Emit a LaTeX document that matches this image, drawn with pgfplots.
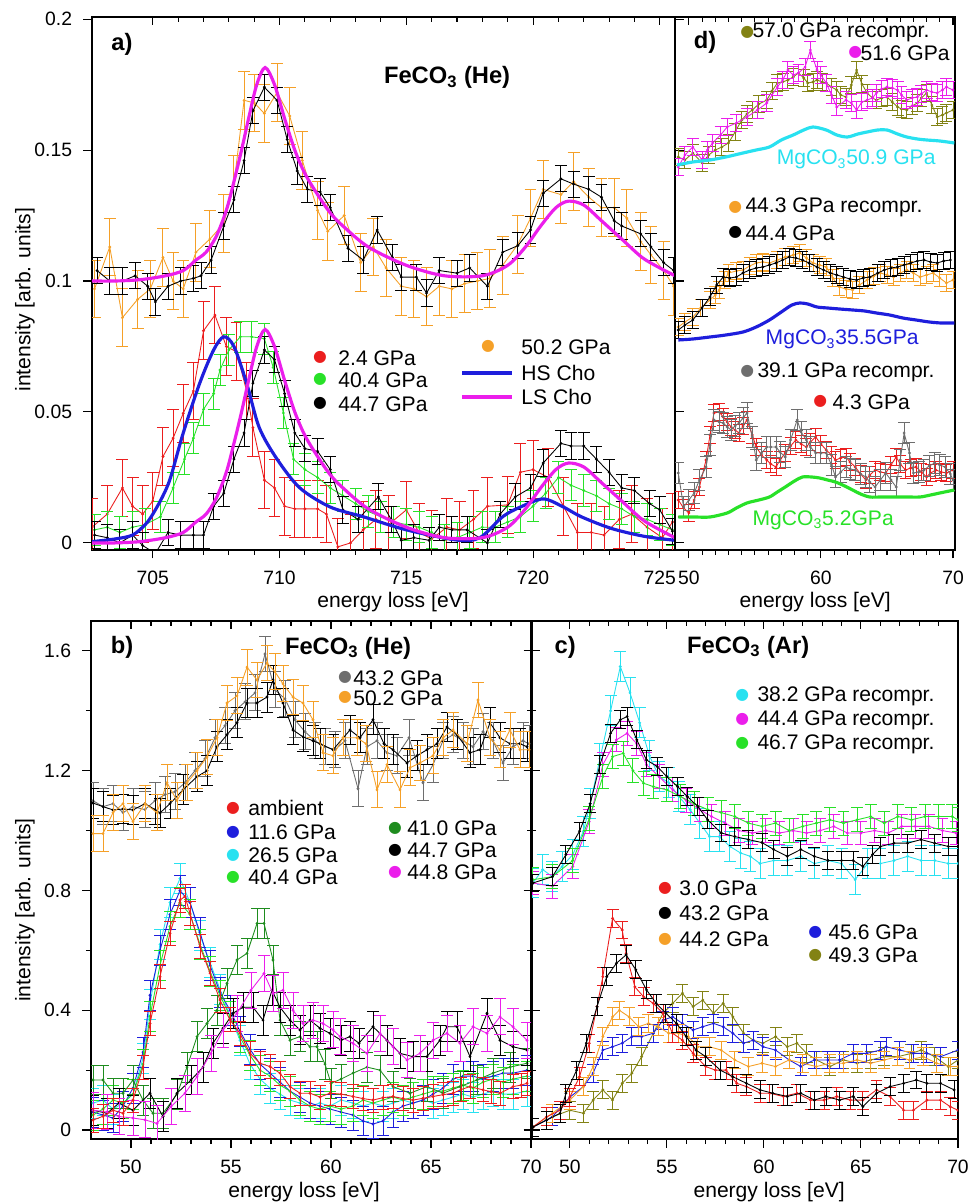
\documentclass[border=0pt]{standalone}
\usepackage{pgfplots}
\pgfplotsset{compat=1.18}
\usepackage{fontspec}
\setmainfont{Liberation Sans}
\newfontfamily\sym{DejaVu Sans}
\definecolor{cred}{RGB}{235,30,30}
\definecolor{cgreen}{RGB}{40,225,40}
\definecolor{cdgreen}{RGB}{30,140,30}
\definecolor{ccyan}{RGB}{40,225,240}
\definecolor{cmag}{RGB}{235,30,235}
\definecolor{corange}{RGB}{245,160,40}
\definecolor{cblue}{RGB}{30,30,220}
\definecolor{colive}{RGB}{130,130,20}
\definecolor{cgray}{RGB}{110,110,110}

% one mark = data dot + its error bar with caps (half height given)
\newcommand{\defeb}[2]{\pgfdeclareplotmark{#1}{%
  \pgfpathmoveto{\pgfqpoint{0pt}{-#2}}\pgfpathlineto{\pgfqpoint{0pt}{#2}}%
  \pgfpathmoveto{\pgfqpoint{-3.4pt}{-#2}}\pgfpathlineto{\pgfqpoint{3.4pt}{-#2}}%
  \pgfpathmoveto{\pgfqpoint{-3.4pt}{#2}}\pgfpathlineto{\pgfqpoint{3.4pt}{#2}}%
  \pgfusepathqstroke
  \pgfpathcircle{\pgfpointorigin}{0.9pt}\pgfusepathqfill}}
\defeb{ea}{16.4pt}
\defeb{eb}{8.9pt}
\defeb{ec}{7.45pt}
\defeb{ed}{5.1pt}
\defeb{ee}{5.7pt}
\defeb{ef}{10.2pt}
\defeb{eg}{8.5pt}
\defeb{eh}{6.8pt}
\defeb{ei}{5.1pt}

\pgfplotsset{
  panel/.style={scale only axis, anchor=south west,
    axis line style={line width=0.7pt}, tick align=outside,
    major tick length=0.17cm, minor tick length=0.1cm,
    tick style={black, line width=0.6pt}, xtick pos=left,
    clip marker paths=true,
    ticklabel style={font=\fontsize{11}{13}\selectfont},
    xticklabel style={yshift=-0.1cm}, yticklabel style={xshift=-0.08cm},
    /pgf/number format/assume math mode=true},
  tops/.style={scale only axis, anchor=south west, axis line style={draw=none},
    xtick pos=right, tick align=inside, xticklabels={}, ytick=\empty,
    major tick length=0.17cm, minor tick length=0.1cm,
    tick style={black, line width=0.6pt}, ymin=0, ymax=1},
  dat/.style 2 args={color=#1, line width=0.5pt, mark=#2,
    mark options={solid, line width=0.55pt, fill=#1, draw=#1}},
  fitline/.style={color=#1, line width=1.8pt, smooth, no marks},
}
\newcommand{\dotg}{{\sym\fontsize{9}{9}\selectfont ●}}

\begin{document}
\fontsize{12}{14}\selectfont
\begin{tikzpicture}
\useasboundingbox (0,0) rectangle (19.42,24.06);

% ---------------- panel a
\begin{axis}[panel, at={(1.84cm,13.06cm)}, width=11.66cm, height=10.66cm,
  xmin=702.6, xmax=725.6, ymin=-0.0027, ymax=0.2008,
  xtick={705,710,715,720,725}, xticklabels={705,710,715,720,725}, minor x tick num=4,
  ytick={0,0.05,0.1,0.15,0.2}, yticklabels={0,0.05,0.1,0.15,0.2}]
\addplot[dat={cred}{ea}] coordinates {(702.6,0.006) (703.2,0.011) (703.8,0.021) (704.2,0.014) (704.6,0.011) (705.0,0.016) (705.4,0.033) (705.8,0.04) (706.2,0.0495) (706.6,0.058) (707.0,0.081) (707.45,0.087) (707.9,0.075) (708.3,0.073) (708.7,0.058) (708.95,0.044) (709.4,0.024) (709.8,0.021) (710.2,0.014) (710.6,0.013) (711.0,0.013) (711.5,0.013) (711.85,0.011) (712.3,-0.0015) (712.8,0.0) (713.3,0.005) (713.8,0.009) (714.3,0.007) (715.0,0.0126) (715.5,0.004) (716.0,0.0015) (716.6,0.006) (717.1,0.005) (717.65,0.009) (718.2,0.014) (719.0,0.0145) (719.5,0.027) (720.0,0.028) (720.6,0.025) (721.2,0.014) (721.75,0.004) (722.3,0.004) (722.8,0.003) (723.4,0.009) (723.9,0.011) (724.5,0.006) (725.1,0.002) (725.5,0.008)};
\addplot[dat={cgreen}{eb}] coordinates {(702.7,0.005) (703.2,0.006) (703.7,0.004) (704.2,0.006) (704.7,0.007) (705.3,0.01) (705.8,0.021) (706.25,0.032) (706.6,0.04) (707.0,0.051) (707.4,0.057) (707.65,0.066) (708.0,0.0737) (708.45,0.0787) (708.9,0.0787) (709.4,0.078) (709.75,0.067) (710.15,0.0496) (710.55,0.032) (711.0,0.028) (711.5,0.025) (712.0,0.021) (712.5,0.018) (713.0,0.015) (713.5,0.012) (714.0,0.01) (714.5,0.008) (715.0,0.007) (715.5,0.006) (716.0,0.004) (716.5,0.001) (717.0,0.002) (717.5,0.004) (718.0,0.006) (718.5,0.006) (719.0,0.008) (719.5,0.01) (720.0,0.014) (720.5,0.019) (721.0,0.025) (721.5,0.022) (722.0,0.02) (722.5,0.018) (723.0,0.015) (723.5,0.013) (724.0,0.01) (724.5,0.009) (725.0,0.007) (725.5,0.005)};
\addplot[dat={black}{ec}] coordinates {(702.7,0.003) (703.2,0.002) (703.7,0.0) (704.2,0.003) (704.6,-0.001) (705.1,-0.004) (705.6,0.004) (706.1,0.003) (706.6,0.003) (707.0,0.003) (707.4,0.014) (707.8,0.019) (708.2,0.032) (708.6,0.042) (708.95,0.061) (709.4,0.0737) (709.8,0.07) (710.2,0.057) (710.6,0.042) (711.0,0.036) (711.5,0.035) (712.0,0.028) (712.5,0.0126) (713.1,0.009) (713.9,0.0176) (714.4,0.009) (714.8,0.001) (715.3,0.002) (715.9,0.001) (716.3,0.006) (716.8,0.005) (717.4,0.005) (718.2,0.0) (718.7,0.011) (719.3,0.0176) (719.9,0.021) (720.4,0.0305) (721.1,0.038) (721.5,0.037) (722.0,0.037) (722.5,0.032) (723.0,0.027) (723.5,0.021) (724.0,0.02) (724.6,0.015) (725.0,0.0126) (725.5,0.0045)};
\addplot[fitline=cblue] coordinates {(702.6,0.0005) (703.5,0.0015) (704.2,0.003) (704.7,0.007) (705.0,0.011) (705.4,0.018) (705.7,0.025) (706.2,0.042) (706.85,0.061) (707.4,0.0737) (707.8,0.0787) (708.2,0.075) (708.7,0.061) (709.2,0.044) (709.9,0.032) (710.8,0.021) (712,0.0137) (713.3,0.01) (715,0.005) (717,0.0011) (717.9,0.002) (718.8,0.01) (719.5,0.0137) (720.4,0.0168) (721.2,0.0137) (721.9,0.01) (723.1,0.0055) (724.4,0.0025) (725.6,0.001)};
\addplot[fitline=cmag] coordinates {(702.6,0.0) (703.5,0.0) (704.5,0.0005) (705.5,0.002) (706.2,0.004) (706.7,0.008) (707.1,0.011) (707.5,0.017) (707.9,0.027) (708.2,0.038) (708.5,0.05) (708.8,0.063) (709.1,0.075) (709.43,0.0815) (709.8,0.075) (710.2,0.062) (710.6,0.05) (711.0,0.041) (711.5,0.033) (712,0.026) (712.5,0.021) (713.5,0.013) (715,0.006) (716.5,0.002) (718,0.002) (719,0.006) (719.7,0.013) (720.3,0.021) (720.9,0.028) (721.4,0.0305) (722,0.029) (722.7,0.023) (723.5,0.016) (724.3,0.009) (725,0.005) (725.6,0.002)};
\addplot[dat={corange}{ea}] coordinates {(702.7,0.097) (703.3,0.113) (703.8,0.086) (704.4,0.093) (704.9,0.097) (705.4,0.109) (705.8,0.100) (706.2,0.097) (706.7,0.111) (707.25,0.116) (707.8,0.122) (708.2,0.137) (708.6,0.169) (709.0,0.168) (709.4,0.164) (709.9,0.172) (710.4,0.163) (710.9,0.146) (711.5,0.127) (711.9,0.119) (712.55,0.125) (713.2,0.107) (713.7,0.113) (714.2,0.105) (714.8,0.098) (715.3,0.097) (715.8,0.094) (716.3,0.098) (716.8,0.097) (717.3,0.099) (717.8,0.1) (718.3,0.101) (718.8,0.106) (719.4,0.114) (719.9,0.124) (720.4,0.135) (721.1,0.133) (721.6,0.138) (722.2,0.132) (722.7,0.128) (723.2,0.128) (723.7,0.124) (724.25,0.115) (724.65,0.11) (725.15,0.104) (725.55,0.098)};
\addplot[dat={black}{ec}] coordinates {(702.8,0.104) (703.3,0.1) (703.8,0.1) (704.3,0.102) (704.8,0.098) (705.1,0.092) (705.6,0.098) (706.1,0.1) (706.6,0.101) (706.9,0.102) (707.3,0.108) (707.8,0.121) (708.2,0.131) (708.6,0.146) (708.95,0.165) (709.4,0.174) (709.9,0.169) (710.3,0.154) (710.7,0.142) (711.1,0.135) (711.6,0.134) (712.0,0.128) (712.7,0.1125) (713.3,0.108) (713.85,0.1195) (714.45,0.109) (714.8,0.1015) (715.4,0.1015) (715.8,0.0954) (716.3,0.104) (717.0,0.103) (717.5,0.105) (718.2,0.098) (718.8,0.111) (719.4,0.1135) (719.9,0.1195) (720.4,0.1335) (721.1,0.139) (721.6,0.137) (722.2,0.135) (722.7,0.132) (723.2,0.123) (723.5,0.121) (724.25,0.118) (724.65,0.113) (725.15,0.107) (725.55,0.104)};
\addplot[fitline=cmag] coordinates {(702.6,0.1) (703.5,0.1) (704.5,0.1005) (705.5,0.102) (706.2,0.104) (706.7,0.108) (707.1,0.111) (707.5,0.117) (707.9,0.127) (708.2,0.138) (708.5,0.15) (708.8,0.163) (709.1,0.175) (709.43,0.1815) (709.8,0.175) (710.2,0.162) (710.6,0.15) (711.0,0.141) (711.5,0.133) (712,0.126) (712.5,0.121) (713.5,0.113) (715,0.106) (716.5,0.102) (718,0.102) (719,0.106) (719.7,0.113) (720.3,0.121) (720.9,0.128) (721.4,0.1305) (722,0.129) (722.7,0.123) (723.5,0.116) (724.3,0.109) (725,0.105) (725.6,0.102)};
\end{axis}
\begin{axis}[tops, at={(1.84cm,13.06cm)}, width=11.66cm, height=10.66cm,
  xmin=702.6, xmax=725.6, xtick={705,710,715,720,725}, minor x tick num=4]
\end{axis}

% ---------------- panel d
\begin{axis}[panel, at={(13.5cm,13.06cm)}, width=5.6cm, height=10.66cm,
  xmin=48.95, xmax=70.15, ymin=0, ymax=533, ytick=\empty,
  xtick={50,60,70}, xticklabels={50,60,70}, minor x tick num=9]
\addplot[dat={colive}{ed}] coordinates {(49.2,393) (49.7,390) (50.3,397) (51.0,387) (51.5,395) (52.0,400) (52.5,403) (53.0,407) (53.5,418) (54.0,430) (54.4,436) (54.8,440) (55.3,446) (55.9,450) (56.3,459) (56.7,467) (57.1,468) (57.5,470) (57.9,473) (58.3,477) (58.7,472) (59.0,467) (59.4,468) (59.7,470) (60.1,468) (60.4,467) (60.8,463) (61.2,460) (61.5,455) (61.9,453) (62.3,465) (62.7,480) (63.1,466) (63.5,457) (63.9,452) (64.2,450) (64.6,452) (65.0,453) (65.4,448) (65.8,443) (66.1,441) (66.5,440) (66.9,444) (67.3,447) (67.6,452) (68.0,457) (68.4,445) (68.8,433) (69.2,435) (69.5,437) (70.0,440)};
\addplot[dat={cmag}{ed}] coordinates {(49.2,383) (49.7,395) (50.3,403) (51.0,390) (51.4,400) (51.8,407) (52.4,415) (52.9,423) (53.6,427) (54.4,433) (55.2,440) (55.9,447) (56.7,463) (57.1,470) (57.5,480) (57.9,475) (58.3,477) (58.8,483) (59.2,500) (59.7,480) (60.0,475) (60.4,467) (60.8,455) (61.2,443) (61.9,450) (62.3,447) (62.7,440) (63.1,448) (63.5,450) (63.9,452) (64.2,457) (64.6,461) (65.0,463) (65.4,462) (65.8,460) (66.1,455) (66.5,450) (66.9,452) (67.3,453) (67.6,456) (68.0,460) (68.4,458) (68.8,457) (69.2,460) (69.5,463) (70.0,460)};
\addplot[fitline=ccyan] coordinates {(49.1,385) (50.3,388) (51.6,390) (52.8,393) (54.1,397) (55.1,400) (56.1,403) (57.0,410) (57.9,415) (58.7,420) (59.4,423) (60.4,420) (61.2,415) (62.0,413) (62.8,416) (63.5,418) (64.3,420) (65.0,420) (65.8,416) (66.5,413) (67.3,411) (68.0,410) (69.0,409) (70.1,407)};
\addplot[dat={corange}{ed}] coordinates {(49.2,223) (49.7,228) (50.3,233) (50.9,242) (51.6,250) (52.0,255) (52.3,260) (52.7,270) (53.0,277) (53.6,279) (54.1,280) (54.6,284) (55.1,287) (55.6,288) (56.1,287) (56.7,290) (57.3,293) (57.9,295) (58.4,297) (58.9,292) (59.4,287) (59.9,285) (60.4,283) (60.9,272) (61.4,263) (61.9,261) (62.4,260) (62.9,265) (63.5,270) (64.0,274) (64.5,277) (65.0,275) (65.5,273) (66.0,277) (66.5,280) (67.0,277) (67.5,273) (68.0,275) (68.5,277) (69.0,272) (69.5,267) (70.0,270)};
\addplot[dat={black}{ed}] coordinates {(49.2,220) (49.7,225) (50.3,230) (51.0,242) (51.6,253) (52.1,265) (52.6,273) (53.1,272) (53.6,273) (54.1,277) (54.6,280) (55.1,282) (55.6,283) (56.1,285) (56.6,287) (57.1,290) (57.6,293) (58.1,292) (58.6,290) (59.1,287) (59.7,283) (60.2,280) (60.7,277) (61.2,275) (61.7,273) (62.2,271) (62.7,270) (63.2,272) (63.7,273) (64.3,277) (64.8,280) (65.3,282) (65.8,283) (66.3,285) (66.8,287) (67.3,289) (67.8,290) (68.3,288) (68.8,287) (69.3,289) (69.8,290)};
\addplot[fitline=cblue] coordinates {(49.2,210) (50.3,211) (51.6,213) (52.8,215) (54.1,218) (55.1,223) (56.1,230) (57.0,238) (57.8,245) (58.4,247) (59.0,246) (59.7,243) (60.5,242) (61.4,241) (62.4,240) (63.3,239) (64.2,237) (65.2,235) (66.2,232) (67.2,230) (68.2,228) (69.1,227) (70.1,227)};
\addplot[dat={cred}{ed}] coordinates {(49.2,50) (49.6,42) (50.0,37) (50.4,50) (50.8,63) (51.3,90) (51.6,115) (51.9,137) (52.3,138) (52.6,133) (52.9,128) (53.2,123) (53.5,120) (53.8,117) (54.1,124) (54.4,130) (54.8,115) (55.1,103) (55.5,95) (55.9,90) (56.2,86) (56.6,83) (56.9,90) (57.3,97) (57.7,104) (58.1,110) (58.5,106) (58.9,103) (59.2,108) (59.6,113) (60.0,106) (60.4,100) (60.8,95) (61.1,90) (61.5,92) (61.9,93) (62.2,88) (62.6,83) (63.0,76) (63.4,70) (63.7,75) (64.1,80) (64.5,78) (64.9,77) (65.3,85) (65.7,93) (66.0,86) (66.4,80) (66.8,82) (67.2,83) (67.6,78) (68.0,73) (68.3,77) (68.7,80) (69.1,78) (69.5,77) (70.0,80)};
\addplot[dat={cgray}{ee}] coordinates {(49.2,77) (49.6,43) (50.0,50) (50.4,57) (50.8,70) (51.3,83) (51.6,105) (51.9,130) (52.3,128) (52.6,127) (52.9,123) (53.2,120) (53.5,124) (53.8,127) (54.1,132) (54.4,137) (54.8,113) (55.1,90) (55.5,97) (55.9,103) (56.2,103) (56.6,103) (56.9,98) (57.3,93) (57.7,110) (58.2,130) (58.5,118) (58.9,110) (59.2,103) (59.6,97) (60.0,97) (60.4,97) (60.8,85) (61.1,73) (61.5,78) (61.9,83) (62.2,81) (62.6,80) (63.0,76) (63.4,73) (63.7,68) (64.1,63) (64.5,70) (64.9,77) (65.3,70) (65.7,63) (66.0,90) (66.3,117) (66.7,97) (67.0,77) (67.4,78) (67.8,80) (68.2,84) (68.6,87) (69.0,85) (69.4,83) (69.8,76) (70.0,70)};
\addplot[fitline=cgreen] coordinates {(49.2,33) (50.4,33) (51.6,33) (52.9,37) (53.6,42) (54.4,47) (55.3,50) (56.1,53) (56.7,58) (57.3,63) (58.0,69) (58.6,73) (59.3,73) (59.9,72) (60.5,70) (61.1,68) (61.8,64) (62.4,60) (63.0,56) (63.7,53) (64.6,53) (65.5,53) (66.5,53) (67.5,53) (68.3,55) (69.0,57) (70.1,60)};
\end{axis}
\begin{axis}[tops, at={(13.5cm,13.06cm)}, width=5.6cm, height=10.66cm,
  xmin=48.95, xmax=70.15, xtick={50,60,70}, minor x tick num=9]
\end{axis}

% ---------------- panel b
\begin{axis}[panel, at={(1.82cm,1.28cm)}, width=8.8cm, height=10.36cm,
  xmin=48, xmax=70, ymin=-0.03, ymax=1.70,
  xtick={50,55,60,65,70}, xticklabels={50,55,60,65,70}, minor x tick num=4,
  ytick={0,0.4,0.8,1.2,1.6}, yticklabels={0,0.4,0.8,1.2,1.6}, minor y tick num=1]
\addplot[dat={cgray}{ef}] coordinates {(48.1,1.1) (48.6,1.08) (49.1,1.09) (49.6,1.06) (50.1,1.08) (50.7,1.07) (51.2,1.1) (51.7,1.12) (52.2,1.13) (52.7,1.16) (53.2,1.2) (53.7,1.24) (54.2,1.31) (54.7,1.35) (55.2,1.4) (55.7,1.43) (56.2,1.46) (56.7,1.59) (57.2,1.47) (57.7,1.44) (58.2,1.37) (58.7,1.33) (59.2,1.3) (59.7,1.28) (60.2,1.27) (60.7,1.3) (61.35,1.14) (61.8,1.28) (62.3,1.3) (62.8,1.26) (63.3,1.25) (63.9,1.31) (64.6,1.16) (65.1,1.22) (65.6,1.3) (66.1,1.32) (66.6,1.3) (67.1,1.28) (67.6,1.33) (68.1,1.3) (68.6,1.226) (69.1,1.28) (69.6,1.3) (69.9,1.29)};
\addplot[dat={black}{eg}] coordinates {(48.1,1.092) (48.6,1.08) (49.1,1.069) (49.6,1.072) (50.1,1.069) (50.7,1.09) (51.2,1.07) (51.45,1.059) (51.95,1.09) (52.6,1.136) (53.3,1.18) (53.8,1.2) (54.3,1.28) (54.8,1.32) (55.3,1.36) (55.8,1.426) (56.3,1.426) (56.8,1.446) (57.1,1.503) (57.6,1.426) (58.1,1.336) (58.6,1.313) (59.1,1.3) (59.45,1.29) (60.1,1.27) (60.95,1.336) (61.45,1.31) (62.1,1.37) (62.65,1.29) (63.1,1.27) (63.8,1.226) (64.3,1.25) (64.8,1.27) (65.3,1.29) (65.8,1.346) (66.3,1.32) (66.95,1.26) (67.45,1.27) (67.95,1.36) (68.45,1.31) (68.95,1.29) (69.45,1.29) (69.8,1.28)};
\addplot[dat={corange}{ef}] coordinates {(48.1,0.99) (48.6,0.99) (49.1,1.06) (49.6,1.09) (50.1,1.03) (50.7,1.09) (51.3,1.06) (51.8,1.16) (52.3,1.1) (52.8,1.16) (53.3,1.2) (53.8,1.246) (54.3,1.31) (54.8,1.426) (55.3,1.45) (55.8,1.546) (56.3,1.503) (56.8,1.56) (57.2,1.53) (57.6,1.49) (58.1,1.446) (58.6,1.426) (59.1,1.37) (59.6,1.26) (60.1,1.25) (60.6,1.31) (61.3,1.31) (61.75,1.29) (62.3,1.136) (62.8,1.22) (63.45,1.136) (63.95,1.21) (64.45,1.226) (65.1,1.25) (65.6,1.31) (66.1,1.336) (66.8,1.29) (67.35,1.436) (67.95,1.31) (68.45,1.27) (68.95,1.336) (69.45,1.27) (69.9,1.27)};
\addplot[dat={ccyan}{eg}] coordinates {(48.1,0.09) (48.6,0.1) (49.1,0.07) (49.6,0.09) (50.1,0.12) (50.6,0.24) (50.95,0.42) (51.45,0.62) (51.95,0.76) (52.45,0.84) (52.95,0.76) (53.45,0.65) (53.95,0.56) (54.45,0.47) (54.95,0.38) (55.45,0.3) (55.95,0.22) (56.45,0.17) (56.95,0.14) (57.45,0.12) (57.95,0.1) (58.45,0.09) (58.95,0.08) (59.45,0.09) (59.95,0.08) (60.5,0.1) (61.1,0.09) (61.6,0.08) (62.1,0.09) (62.6,0.08) (63.1,0.09) (63.6,0.1) (64.1,0.09) (64.6,0.1) (65.1,0.09) (65.6,0.1) (66.1,0.11) (66.6,0.12) (67.1,0.11) (67.6,0.12) (68.1,0.13) (68.6,0.12) (69.1,0.12) (69.8,0.13)};
\addplot[dat={cblue}{eg}] coordinates {(48.1,0.06) (48.6,0.05) (49.1,0.04) (49.6,0.08) (50.1,0.14) (50.6,0.26) (50.95,0.45) (51.45,0.6) (51.95,0.72) (52.45,0.8) (52.95,0.76) (53.45,0.66) (53.95,0.55) (54.45,0.46) (54.95,0.4) (55.45,0.33) (55.95,0.27) (56.45,0.22) (56.95,0.19) (57.45,0.16) (57.95,0.13) (58.45,0.11) (58.95,0.09) (59.45,0.08) (59.95,0.07) (60.5,0.06) (61.1,0.05) (61.6,0.03) (62.1,0.02) (62.6,0.03) (63.1,0.06) (63.6,0.08) (64.1,0.09) (64.6,0.1) (65.1,0.12) (65.6,0.14) (66.1,0.17) (66.6,0.18) (67.1,0.18) (67.6,0.17) (68.1,0.18) (68.6,0.19) (69.1,0.19) (69.8,0.2)};
\addplot[dat={cgreen}{eg}] coordinates {(48.1,0.05) (48.6,0.07) (49.1,0.1) (49.6,0.09) (50.1,0.12) (50.6,0.22) (50.95,0.38) (51.45,0.55) (51.95,0.68) (52.45,0.76) (52.95,0.72) (53.45,0.62) (53.95,0.53) (54.45,0.45) (54.95,0.38) (55.45,0.31) (55.95,0.25) (56.45,0.2) (56.95,0.18) (57.45,0.15) (57.95,0.13) (58.45,0.1) (58.95,0.08) (59.45,0.07) (59.95,0.08) (60.5,0.07) (61.1,0.08) (61.6,0.1) (62.1,0.09) (62.6,0.1) (63.1,0.11) (63.6,0.1) (64.1,0.11) (64.6,0.12) (65.1,0.13) (65.6,0.13) (66.1,0.14) (66.6,0.15) (67.1,0.14) (67.6,0.16) (68.1,0.17) (68.6,0.16) (69.1,0.17) (69.8,0.18)};
\addplot[dat={cdgreen}{eg}] coordinates {(48.1,0.167) (48.6,0.167) (49.1,0.123) (49.6,0.123) (50.1,0.167) (50.6,0.1) (51.1,0.056) (51.6,0.056) (52.3,0.12) (52.8,0.21) (53.3,0.312) (53.8,0.356) (54.3,0.4) (54.8,0.49) (55.3,0.568) (55.8,0.59) (56.3,0.69) (56.65,0.69) (57.1,0.568) (57.45,0.367) (57.95,0.3) (58.45,0.312) (58.95,0.278) (59.3,0.278) (59.7,0.22) (60.0,0.156) (60.5,0.17) (61.1,0.19) (61.8,0.21) (62.45,0.2) (63.1,0.145) (63.95,0.123) (64.8,0.145) (65.6,0.123) (66.45,0.145) (67.3,0.167) (68.1,0.19) (68.95,0.21) (69.8,0.223)};
\addplot[dat={black}{eg}] coordinates {(48.1,0.066) (48.8,0.056) (49.4,0.09) (50.1,0.066) (50.95,0.123) (51.6,0.045) (52.3,0.123) (53.0,0.167) (53.6,0.21) (54.1,0.29) (54.6,0.34) (55.1,0.39) (55.6,0.41) (56.1,0.41) (56.6,0.367) (57.05,0.467) (57.45,0.41) (57.95,0.367) (58.45,0.334) (58.95,0.367) (59.45,0.34) (59.95,0.323) (60.5,0.3) (60.95,0.312) (61.4,0.29) (62.1,0.345) (62.8,0.3) (63.45,0.256) (64.1,0.245) (64.8,0.245) (65.45,0.3) (65.8,0.345) (66.3,0.345) (66.95,0.245) (67.8,0.39) (68.45,0.3) (69.1,0.278) (69.8,0.267)};
\addplot[dat={cmag}{ef}] coordinates {(48.1,0.066) (48.8,0.06) (49.4,0.045) (50.1,0.04) (50.7,0.034) (51.3,0.022) (52.0,0.078) (52.7,0.123) (53.3,0.178) (54.0,0.256) (54.6,0.334) (55.3,0.39) (56.0,0.467) (56.65,0.523) (57.1,0.456) (57.6,0.467) (58.1,0.4) (58.6,0.356) (59.1,0.367) (59.6,0.356) (60.1,0.335) (60.45,0.312) (61.1,0.29) (61.8,0.256) (62.45,0.323) (63.1,0.278) (63.8,0.234) (64.45,0.256) (65.1,0.3) (65.8,0.323) (66.45,0.29) (67.1,0.345) (67.8,0.323) (68.45,0.378) (69.1,0.345) (69.8,0.3)};
\addplot[dat={cred}{eh}] coordinates {(48.1,0.033) (48.6,0.046) (49.1,0.066) (49.6,0.056) (50.1,0.1) (50.6,0.21) (50.95,0.356) (51.45,0.512) (51.95,0.657) (52.45,0.768) (52.7,0.78) (52.95,0.724) (53.45,0.612) (53.95,0.524) (54.45,0.434) (54.95,0.368) (55.45,0.323) (55.95,0.256) (56.45,0.223) (56.95,0.212) (57.45,0.19) (57.95,0.145) (58.45,0.123) (58.95,0.123) (59.45,0.11) (59.95,0.123) (60.5,0.12) (61.1,0.112) (61.6,0.105) (62.1,0.1) (62.6,0.108) (63.1,0.112) (63.6,0.105) (64.1,0.1) (64.6,0.106) (65.1,0.112) (65.6,0.118) (66.1,0.123) (66.5,0.135) (66.95,0.145) (67.6,0.134) (68.0,0.128) (68.45,0.123) (69.1,0.145) (69.5,0.15) (69.8,0.156)};
\end{axis}
\begin{axis}[tops, at={(1.82cm,1.28cm)}, width=8.8cm, height=10.36cm,
  xmin=48, xmax=70, xtick={50,55,60,65,70}, minor x tick num=4]
\end{axis}

% ---------------- panel c
\begin{axis}[panel, at={(10.64cm,1.28cm)}, width=8.52cm, height=10.36cm,
  xmin=48.05, xmax=70, ymin=-0.03, ymax=1.70, ytick pos=left,
  xtick={50,55,60,65,70}, xticklabels={50,55,60,65,70}, minor x tick num=4,
  ytick={0,0.4,0.8,1.2,1.6}, yticklabels={}, minor y tick num=1]
\addplot[dat={ccyan}{eg}] coordinates {(48.1,0.825) (48.6,0.87) (49.1,0.846) (49.6,0.88) (50.15,0.92) (50.7,0.998) (51.05,1.09) (51.55,1.24) (52.1,1.4) (52.6,1.548) (53.1,1.46) (53.6,1.36) (54.1,1.25) (54.6,1.18) (55.1,1.16) (55.6,1.115) (56.2,1.07) (56.7,1.025) (57.2,0.98) (57.7,0.98) (58.25,0.947) (58.8,0.925) (59.3,0.914) (59.8,0.89) (60.5,0.9) (61.2,0.9) (61.9,0.914) (62.6,0.89) (63.3,0.9) (64.0,0.89) (64.7,0.836) (65.35,0.89) (66.0,0.89) (66.7,0.9) (67.4,0.914) (68.1,0.9) (68.8,0.9) (69.5,0.89) (70.0,0.89)};
\addplot[dat={cmag}{eh}] coordinates {(48.1,0.825) (49.1,0.814) (50.15,0.88) (51.0,1.03) (51.7,1.22) (52.4,1.303) (52.95,1.325) (53.45,1.29) (53.95,1.22) (54.6,1.18) (55.3,1.136) (56.0,1.1) (56.7,1.07) (57.3,1.047) (58.0,1.025) (58.7,1.0) (59.4,0.992) (60.1,1.0) (60.8,0.992) (61.5,1.0) (62.2,0.992) (62.9,1.0) (63.6,1.014) (64.3,0.992) (65.0,0.992) (65.7,1.0) (66.4,0.992) (67.1,1.014) (67.8,1.014) (68.5,1.014) (69.2,1.0) (69.9,0.992)};
\addplot[dat={cgreen}{eh}] coordinates {(48.1,0.836) (49.1,0.846) (50.15,0.9) (51.0,1.04) (51.7,1.18) (52.2,1.247) (52.75,1.258) (53.25,1.2) (53.8,1.158) (54.3,1.147) (55.0,1.136) (55.7,1.114) (56.4,1.09) (57.1,1.07) (57.8,1.06) (58.5,1.047) (59.2,1.025) (59.9,1.014) (60.6,1.025) (61.3,1.0) (62.0,1.014) (62.7,1.025) (63.4,1.036) (64.1,1.025) (64.8,1.036) (65.5,1.047) (66.2,1.025) (66.9,1.047) (67.6,1.036) (68.3,1.047) (69.0,1.047) (69.7,1.047) (70.0,1.036)};
\addplot[dat={black}{ei}] coordinates {(48.1,0.825) (49.1,0.846) (49.8,0.92) (50.5,0.998) (51.05,1.09) (51.55,1.22) (52.1,1.325) (52.6,1.37) (52.95,1.381) (53.45,1.303) (53.95,1.236) (54.5,1.214) (55.0,1.18) (55.55,1.147) (56.05,1.114) (56.6,1.08) (57.1,1.036) (57.8,0.992) (58.5,0.98) (59.2,0.97) (59.9,0.96) (60.5,0.937) (61.2,0.914) (61.9,0.937) (62.6,0.914) (63.3,0.9) (64.0,0.9) (64.6,0.9) (65.1,0.88) (65.6,0.92) (66.0,0.947) (66.7,0.958) (67.4,0.958) (68.1,0.97) (68.8,0.958) (69.5,0.947) (70.0,0.947)};
\addplot[dat={colive}{ei}] coordinates {(48.1,0.01) (49.1,0.044) (50.0,0.066) (50.7,0.056) (51.2,0.1) (51.7,0.134) (52.2,0.1) (52.7,0.156) (53.2,0.19) (53.7,0.245) (54.3,0.323) (54.8,0.39) (55.3,0.423) (55.8,0.457) (56.35,0.412) (56.85,0.434) (57.4,0.39) (57.9,0.423) (58.4,0.378) (58.95,0.323) (59.45,0.3) (59.95,0.29) (60.6,0.312) (61.2,0.278) (61.7,0.29) (62.2,0.256) (62.7,0.234) (63.4,0.212) (64.1,0.234) (64.8,0.223) (65.5,0.234) (66.2,0.245) (66.9,0.245) (67.6,0.256) (68.1,0.267) (68.8,0.245) (69.5,0.212) (70.0,0.234)};
\addplot[dat={cblue}{ei}] coordinates {(48.1,0.01) (49.1,0.044) (50.0,0.11) (50.7,0.145) (51.2,0.19) (51.7,0.267) (52.2,0.278) (52.7,0.29) (53.2,0.312) (53.7,0.312) (54.3,0.323) (54.8,0.367) (55.3,0.378) (55.8,0.356) (56.35,0.334) (56.85,0.345) (57.4,0.356) (57.9,0.345) (58.4,0.323) (58.95,0.29) (59.45,0.3) (59.95,0.278) (60.6,0.267) (61.3,0.234) (61.9,0.212) (62.6,0.234) (63.3,0.234) (63.9,0.234) (64.6,0.256) (65.3,0.256) (66.0,0.267) (66.3,0.278) (67.0,0.267) (67.7,0.256) (68.4,0.256) (69.1,0.245) (70.0,0.267)};
\addplot[dat={corange}{ei}] coordinates {(48.1,0.01) (49.1,0.056) (50.0,0.1) (50.7,0.145) (51.2,0.212) (51.7,0.312) (52.2,0.378) (52.55,0.4) (53.05,0.378) (53.55,0.345) (54.05,0.356) (54.55,0.345) (55.1,0.323) (55.6,0.323) (56.1,0.312) (56.6,0.278) (57.2,0.278) (57.8,0.267) (58.5,0.234) (59.2,0.212) (59.9,0.223) (60.6,0.212) (61.3,0.234) (62.0,0.223) (62.7,0.212) (63.4,0.223) (64.1,0.223) (64.8,0.234) (65.5,0.223) (66.2,0.234) (66.9,0.245) (67.5,0.234) (68.2,0.245) (68.9,0.223) (69.6,0.212) (70.0,0.212)};
\addplot[dat={cred}{ei}] coordinates {(48.1,0.01) (48.8,0.044) (49.5,0.066) (50.0,0.11) (50.5,0.178) (51.0,0.29) (51.4,0.412) (51.7,0.512) (52.2,0.707) (52.7,0.668) (52.9,0.59) (53.35,0.478) (53.8,0.445) (54.3,0.423) (54.8,0.39) (55.3,0.323) (55.8,0.3) (56.35,0.256) (57.0,0.212) (57.5,0.2) (58.05,0.2) (58.6,0.156) (59.1,0.145) (59.8,0.123) (60.3,0.123) (61.0,0.112) (61.7,0.123) (62.4,0.1) (63.1,0.1) (63.75,0.112) (64.45,0.1) (65.1,0.1) (65.8,0.134) (66.5,0.112) (67.2,0.066) (67.7,0.066) (68.4,0.1) (69.1,0.1) (69.6,0.078) (70.0,0.066)};
\addplot[dat={black}{ei}] coordinates {(48.1,0.01) (48.8,0.033) (49.5,0.056) (49.8,0.123) (50.35,0.2) (50.85,0.29) (51.4,0.412) (51.9,0.512) (52.4,0.557) (52.9,0.585) (53.4,0.535) (53.95,0.468) (54.45,0.423) (54.95,0.39) (55.5,0.356) (56.0,0.312) (56.5,0.267) (57.0,0.245) (57.75,0.2) (58.4,0.178) (59.1,0.156) (59.8,0.134) (60.45,0.123) (61.2,0.112) (61.9,0.123) (62.6,0.1) (63.2,0.112) (63.9,0.1) (64.6,0.112) (65.1,0.078) (65.8,0.123) (66.5,0.145) (67.2,0.156) (67.85,0.167) (68.4,0.156) (69.1,0.156) (69.8,0.134)};
\end{axis}
\begin{axis}[tops, at={(10.64cm,1.28cm)}, width=8.52cm, height=10.36cm,
  xmin=48.05, xmax=70, xtick={50,55,60,65,70}, minor x tick num=4]
\end{axis}

% ---------------- labels (coordinates in reference pixels, y measured from bottom)
\begin{scope}[x=0.02cm, y=0.02cm, every node/.style={inner sep=0pt}]
\node[rotate=90] at (25,903) {intensity [arb. units]};
\node[rotate=90] at (25,293) {intensity [arb. units]};
\node at (393,601) {energy loss [eV]};
\node at (815,601) {energy loss [eV]};
\node at (304,11) {energy loss [eV]};
\node at (769,11) {energy loss [eV]};
\node[font=\bfseries\fontsize{13.5}{15}\selectfont] at (122,1158) {a)};
\node[font=\bfseries\fontsize{13.5}{15}\selectfont] at (705,1160) {d)};
\node[font=\bfseries\fontsize{13.5}{15}\selectfont] at (122,556) {b)};
\node[font=\bfseries\fontsize{13.5}{15}\selectfont] at (565,556) {c)};
\node[font=\bfseries\fontsize{13.5}{15}\selectfont] at (447,1125) {FeCO\textsubscript{3} (He)};
\node[font=\bfseries\fontsize{13.5}{15}\selectfont] at (348,555) {FeCO\textsubscript{3} (He)};
\node[font=\bfseries\fontsize{13.5}{15}\selectfont] at (748,556) {FeCO\textsubscript{3} (Ar)};
% legend a
\node[text=cred] at (320,845) {\dotg}; \node[anchor=west] at (338,845) {2.4 GPa};
\node[text=cgreen] at (320,823) {\dotg}; \node[anchor=west] at (338,823) {40.4 GPa};
\node[text=black] at (320,799) {\dotg}; \node[anchor=west] at (338,799) {44.7 GPa};
\node[text=corange] at (488,856) {\dotg}; \node[anchor=west] at (521,856) {50.2 GPa};
\draw[cblue, line width=2pt] (462,830) -- (512,830); \node[anchor=west] at (521,830) {HS Cho};
\draw[cmag, line width=2pt] (462,806) -- (512,806); \node[anchor=west] at (521,806) {LS Cho};
% legend d
\node[text=colive] at (747,1170) {\dotg}; \node[anchor=west] at (752,1170) {57.0 GPa recompr.};
\node[text=cmag] at (855,1150) {\dotg}; \node[anchor=west] at (860,1150) {51.6 GPa};
\node[text=ccyan] at (856,1043) {MgCO\textsubscript{3}50.9 GPa};
\node[text=corange] at (735,995) {\dotg}; \node[anchor=west] at (745,995) {44.3 GPa recompr.};
\node[text=black] at (735,970) {\dotg}; \node[anchor=west] at (745,970) {44.4 GPa};
\node[text=cblue] at (842,863) {MgCO\textsubscript{3}35.5GPa};
\node[text=cgray] at (747,831) {\dotg}; \node[anchor=west] at (757,831) {39.1 GPa recompr.};
\node[text=cred] at (820,801) {\dotg}; \node[anchor=west] at (832,801) {4.3 GPa};
\node[text=cgreen] at (823,683) {MgCO\textsubscript{3}5.2GPa};
% legend b
\node[text=cgray] at (345,525) {\dotg}; \node[anchor=west] at (353,525) {43.2 GPa};
\node[text=corange] at (345,505) {\dotg}; \node[anchor=west] at (353,505) {50.2 GPa};
\node[text=cred] at (233,395) {\dotg}; \node[anchor=west] at (248,395) {ambient};
\node[text=cblue] at (233,371) {\dotg}; \node[anchor=west] at (248,371) {11.6 GPa};
\node[text=ccyan] at (233,348) {\dotg}; \node[anchor=west] at (248,348) {26.5 GPa};
\node[text=cgreen] at (233,326) {\dotg}; \node[anchor=west] at (248,326) {40.4 GPa};
\node[text=cdgreen] at (395,375) {\dotg}; \node[anchor=west] at (407,375) {41.0 GPa};
\node[text=black] at (395,353) {\dotg}; \node[anchor=west] at (407,353) {44.7 GPa};
\node[text=cmag] at (395,331) {\dotg}; \node[anchor=west] at (407,331) {44.8 GPa};
% legend c
\node[text=ccyan] at (742,507) {\dotg}; \node[anchor=west] at (757,507) {38.2 GPa recompr.};
\node[text=cmag] at (742,483) {\dotg}; \node[anchor=west] at (757,483) {44.4 GPa recompr.};
\node[text=cgreen] at (742,459) {\dotg}; \node[anchor=west] at (757,459) {46.7 GPa recompr.};
\node[text=cred] at (665,315) {\dotg}; \node[anchor=west] at (679,315) {3.0 GPa};
\node[text=black] at (665,290) {\dotg}; \node[anchor=west] at (679,290) {43.2 GPa};
\node[text=corange] at (665,264) {\dotg}; \node[anchor=west] at (679,264) {44.2 GPa};
\node[text=cblue] at (815,271) {\dotg}; \node[anchor=west] at (828,271) {45.6 GPa};
\node[text=colive] at (815,248) {\dotg}; \node[anchor=west] at (828,248) {49.3 GPa};
\end{scope}
\end{tikzpicture}
\end{document}
